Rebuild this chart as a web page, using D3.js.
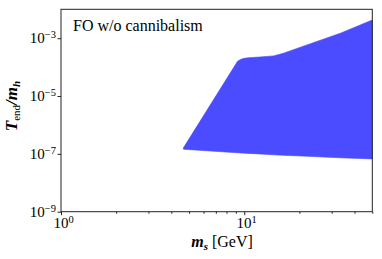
<!DOCTYPE html>
<html><head><meta charset="utf-8">
<script src="https://cdn.jsdelivr.net/npm/d3@7"></script>
<style>
body{margin:0;background:#fff;}
</style></head><body>
<svg id="c" width="382" height="259"></svg>
<script>
// Data
const massGrid   = [4.66, 9.20, 9.55, 10.0, 10.6, 12.2, 14.45, 16.4, 22.0, 33.5, 50];
const upperBound = [1.62e-7, 1.60e-4, 1.85e-4, 2.02e-4, 2.12e-4, 2.24e-4, 2.45e-4, 3.04e-4, 5.87e-4, 1.49e-3, 4.28e-3];
const lowerBound = [1.45e-7, 1.09e-7, 1.08e-7, 1.06e-7, 1.04e-7, 9.9e-8, 9.3e-8, 8.9e-8, 8.3e-8, 7.3e-8, 6.7e-8];
const xTickValues = [1,2,3,4,5,6,7,8,9,10,20,30,40,50];
const xMajor = [1,10];
const yTickValues = [1e-9,1e-7,1e-5,1e-3];
const annotation = "FO w/o cannibalism";

const FONT = "Liberation Serif";
const svg = d3.select("#c").attr("font-family", FONT);
const L=61, R=372.3, T=9.3, B=211.7;
const x = d3.scaleLog().domain([1,50]).range([L,R]);
const y = d3.scaleLog().domain([1e-9,1e-2]).range([B,T]);

const rows = massGrid.map((m,i)=>({m, hi:upperBound[i], lo:lowerBound[i]}));
svg.append("path").datum(rows)
  .attr("d", d3.area().x(d=>x(d.m)).y0(d=>y(d.lo)).y1(d=>y(d.hi)))
  .attr("fill","#4b4bff").attr("stroke","#4545f5").attr("stroke-width",0.6);

// frame
svg.append("rect").attr("x",L).attr("y",T).attr("width",R-L).attr("height",B-T)
  .attr("fill","none").attr("stroke","#222").attr("stroke-width",1);

function supLabel(sel, exp){
  sel.text(null);
  sel.append("tspan").text("10");
  sel.append("tspan").attr("dy","-0.45em").attr("font-size","10.5px").text(exp);
}

// x axis
const xa = svg.append("g").attr("transform",`translate(0,${B})`)
  .call(d3.axisBottom(x).tickValues(xTickValues).tickSizeOuter(0).tickFormat(""));
xa.attr("font-family", FONT);
xa.select(".domain").remove();
xa.selectAll(".tick line").attr("stroke","#222")
  .attr("y2", d=>xMajor.includes(d)?3.5:2);
xa.selectAll(".tick").filter(d=>xMajor.includes(d)).append("text")
  .attr("y",16).attr("text-anchor","middle").attr("font-size","15px").attr("fill","#000")
  .each(function(d){ supLabel(d3.select(this), String(Math.round(Math.log10(d)))); })
  .attr("dx","2");

// y axis
const ya = svg.append("g").attr("transform",`translate(${L},0)`)
  .call(d3.axisLeft(y).tickValues(yTickValues).tickSizeOuter(0).tickFormat("").tickSize(3.5));
ya.attr("font-family", FONT);
ya.select(".domain").remove();
ya.selectAll(".tick line").attr("stroke","#222");
ya.selectAll(".tick").append("text")
  .attr("x",-5).attr("y",4.5).attr("text-anchor","end").attr("font-size","15px").attr("fill","#000")
  .each(function(d){ supLabel(d3.select(this), "\u2212"+Math.round(-Math.log10(d))); });

// annotation
svg.append("text").attr("x",73).attr("y",31).attr("font-size","16px").text(annotation);

// x label
const xl = svg.append("text").attr("x",222).attr("y",247).attr("text-anchor","middle").attr("font-size","16px");
xl.append("tspan").attr("font-weight","bold").attr("font-style","italic").text("m");
xl.append("tspan").attr("font-weight","bold").attr("font-style","italic").attr("font-size","11px").attr("dy","3").text("s");
xl.append("tspan").attr("dy","-3").text(" [GeV]");

// y label
const yl = svg.append("text").attr("transform","translate(17,106) rotate(-90)").attr("text-anchor","middle").attr("font-size","17px");
yl.append("tspan").attr("font-weight","bold").attr("font-style","italic").text("T");
yl.append("tspan").attr("font-size","11px").attr("dy","3").text("end");
yl.append("tspan").attr("dy","-3").attr("font-weight","bold").attr("font-style","italic").text("/m");
yl.append("tspan").attr("font-weight","bold").attr("font-style","italic").attr("font-size","11px").attr("dy","3").text("h");
</script></body></html>
